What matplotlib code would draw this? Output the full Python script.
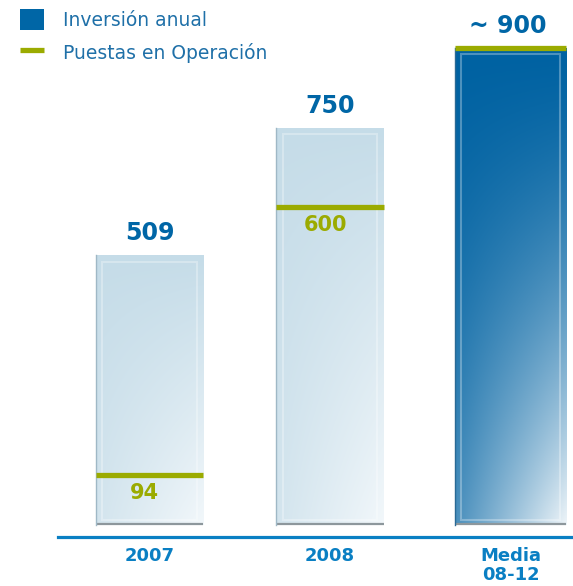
import numpy as np
import matplotlib
matplotlib.use("Agg")
from matplotlib import pyplot as plt
from matplotlib.patches import Rectangle, Patch
from matplotlib.lines import Line2D

# datos
categorias = ["2007", "2008", "Media\n08-12"]
inversion = [509, 750, 900]
inversion_labels = ["509", "750", "~ 900"]
puestas = [94, 600, 900]
puestas_labels = ["94", "600", None]

AZUL = "#0066a6"
AZUL_EJE = "#0a7fc3"
VERDE = "#9bab00"

plt.rcParams["font.family"] = ["DejaVu Sans"]

fig = plt.figure(figsize=(5.73, 5.86), dpi=100)
ax = fig.add_axes([58 / 573, 49 / 586, 515 / 573, 537 / 586])

def gradiente(c0, c1, p=1.5, n=200):
    c0 = np.array(matplotlib.colors.to_rgb(c0))
    c1 = np.array(matplotlib.colors.to_rgb(c1))
    u = np.linspace(0, 1, n)[None, :]
    v = np.linspace(0, 1, n)[:, None]
    t = np.clip(v ** p * (0.3 + 0.68 * u), 0, 1)
    return c0 * (1 - t[..., None]) + c1 * t[..., None]

x = np.arange(len(categorias))
anchos = [0.595, 0.595, 0.615]
for i, (xi, h, w) in enumerate(zip(x, inversion, anchos)):
    x0, x1 = xi - w / 2, xi + w / 2
    rect = Rectangle((x0, 0), w, h, facecolor="none", edgecolor="none", zorder=2)
    ax.add_patch(rect)
    if i < 2:
        img = gradiente("#c5dce8", "#f3f8fb", p=1.0)
    else:
        img = gradiente("#0062a2", "#f2f7fa", p=1.5)
    im = ax.imshow(img, extent=(x0, x1, 0, h), origin="upper", aspect="auto", zorder=2)
    im.set_clip_path(rect)
    # brillo interior
    ax.add_patch(Rectangle((x0 + 0.035, 10), w - 0.07, h - 22, facecolor="none",
                           edgecolor="white", alpha=0.3, lw=1.5, zorder=3))
    # sombra inferior
    ax.plot([x0, x1], [1.5, 1.5], color="#8d979c", lw=1.6, zorder=3,
            solid_capstyle="butt")
    ax.plot([x0, x0], [0, h], color="#9fb8c6" if i < 2 else "#2a6a95", lw=1.0, zorder=3)

    # linea verde
    ax.plot([x0, x1], [puestas[i], puestas[i]], color=VERDE, lw=3.8, zorder=4,
            solid_capstyle="butt")
    top = max(h, puestas[i])
    ax.annotate(inversion_labels[i], (xi, top), xytext=(-3 if i == 2 else 0, 10),
                textcoords="offset pixels", ha="center", va="bottom",
                fontsize=17, fontweight="bold", color=AZUL, zorder=5)
    if puestas_labels[i]:
        ax.annotate(puestas_labels[i], (xi, puestas[i]), xytext=(-5, -8),
                    textcoords="offset pixels", ha="center", va="top",
                    fontsize=15, fontweight="bold", color=VERDE, zorder=5)

ax.set_xlim(-0.507, 2.346)
ax.set_ylim(-22.6, 990.6)
for s in ["top", "left", "right"]:
    ax.spines[s].set_visible(False)
ax.spines["bottom"].set_color(AZUL_EJE)
ax.spines["bottom"].set_linewidth(2.3)
ax.set_yticks([])
ax.set_xticks(x)
ax.set_xticklabels(categorias, fontsize=13, fontweight="bold", color=AZUL_EJE,
                   linespacing=1.1)
ax.tick_params(axis="x", length=0, pad=7)
ax.patch.set_alpha(0)

handles = [
    Patch(facecolor=AZUL, edgecolor="none"),
    Line2D([0], [0], color=VERDE, lw=3.8, solid_capstyle="butt"),
]
fig.legend(handles, ["Inversión anual", "Puestas en Operación"],
           loc="upper left", bbox_to_anchor=(20 / 573, 1 - 9 / 586),
           frameon=False, fontsize=13.5, labelcolor="#1f70a8",
           handlelength=1.3, handleheight=1.33, handletextpad=1.0,
           labelspacing=0.65, borderpad=0, borderaxespad=0)

fig.savefig("out.png", dpi=100)
